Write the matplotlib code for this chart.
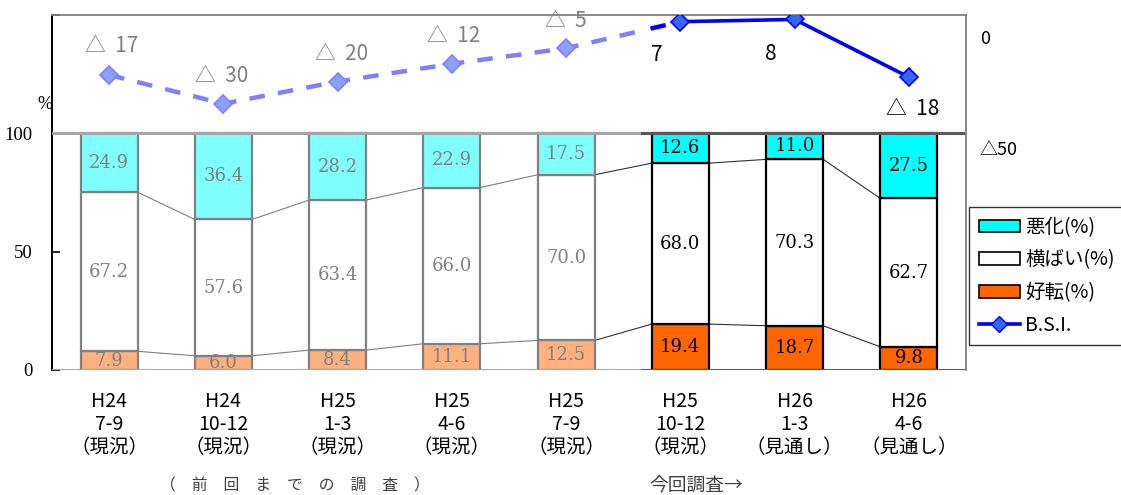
import matplotlib
matplotlib.use("Agg")
import matplotlib.pyplot as plt
from matplotlib.patches import Patch, Rectangle
from matplotlib.lines import Line2D

# ---- data -------------------------------------------------------------
periods = ["H24\n7-9\n（現況）", "H24\n10-12\n（現況）", "H25\n1-3\n（現況）",
           "H25\n4-6\n（現況）", "H25\n7-9\n（現況）", "H25\n10-12\n（現況）",
           "H26\n1-3\n（見通し）", "H26\n4-6\n（見通し）"]
worse = [24.9, 36.4, 28.2, 22.9, 17.5, 12.6, 11.0, 27.5]      # 悪化(%)
flat = [67.2, 57.6, 63.4, 66.0, 70.0, 68.0, 70.3, 62.7]       # 横ばい(%)
better = [7.9, 6.0, 8.4, 11.1, 12.5, 19.4, 18.7, 9.8]         # 好転(%)
bsi = [-17, -30, -20, -12, -5, 7, 8, -18]                     # B.S.I.
n_prev = 5  # number of periods from earlier surveys

# ---- styles -----------------------------------------------------------
JP = ["Noto Sans CJK JP", "DejaVu Sans"]
SERIF = ["DejaVu Serif"]
cyan_full, cyan_pale = "#00FFFF", "#80FFFF"
orange_full, orange_pale = "#FF6600", "#FFB07F"
blue_full, blue_pale = "#0000FF", "#7F7FFF"

fig = plt.figure(figsize=(11.21, 4.95), dpi=100)
ax = fig.add_axes([52 / 1121, 1 - 370 / 495, (966 - 52) / 1121, (370 - 15) / 495])
ax2 = ax.twinx()

x = list(range(len(periods)))
width = 0.5

for i in x:
    prev = i < n_prev
    ec = "#808080" if prev else "black"
    tc = "#808080" if prev else "black"
    c_b = orange_pale if prev else orange_full
    c_w = cyan_pale if prev else cyan_full
    ax.bar(i, better[i], width, color=c_b, edgecolor=ec, linewidth=1.6, zorder=3)
    ax.bar(i, flat[i], width, bottom=better[i], color="white", edgecolor=ec,
           linewidth=1.6, zorder=3)
    ax.bar(i, worse[i], width, bottom=better[i] + flat[i], color=c_w,
           edgecolor=ec, linewidth=1.6, zorder=3)
    for base, val in ((0, better[i]), (better[i], flat[i]),
                      (better[i] + flat[i], worse[i])):
        ax.text(i, base + val / 2, f"{val:.1f}", ha="center", va="center",
                fontsize=13, family=SERIF, color=tc, zorder=5)

# series lines joining the stacked segments of neighbouring bars
cum1 = better
cum2 = [b + f for b, f in zip(better, flat)]
for i in range(len(x) - 1):
    col = "#808080" if i < n_prev - 1 else "#303030"
    for cum in (cum1, cum2):
        ax.plot([x[i] + width / 2, x[i + 1] - width / 2], [cum[i], cum[i + 1]],
                color=col, linewidth=0.8, zorder=2)

ax.set_xlim(-0.5, len(x) - 0.5)
ax.set_ylim(0, 150)
ax.set_yticks([0, 50, 100, 150])
ax.set_yticklabels(["0", "50", "100", ""], family=["Liberation Serif"], fontsize=13.5)
ax.tick_params(axis="y", direction="in", length=6, width=1.2, pad=14)
ax.set_xticks(x)
ax.set_xticklabels(periods, family=JP, fontsize=14, linespacing=1.12)
ax.tick_params(axis="x", length=0, pad=15)

split = 0.645  # axes fraction where the current survey begins
for y, lw in ((100, 2.2), (0, 2.2)):
    ax.axhline(y, xmin=0, xmax=split, color="#A6A6A6", linewidth=lw, zorder=4)
    ax.axhline(y, xmin=split, xmax=1, color="#5A5A5A", linewidth=lw, zorder=4)

for s in ("top", "right", "bottom"):
    ax.spines[s].set_visible(False)
ax.spines["left"].set_color("black")
ax.spines["left"].set_linewidth(1.4)
ax.text(-0.5, 112, "%", ha="right", va="center", fontsize=13,
        family=["Liberation Serif"])

# ---- B.S.I. line --------------------------------------------------------
ax2.set_ylim(-150, 10)
ax2.set_yticks([0, -50])
ax2.set_yticklabels(["0", "△50"], family=JP, fontsize=13)
ax2.tick_params(axis="y", length=0, pad=10)
for s in ("left", "bottom"):
    ax2.spines[s].set_visible(False)
ax2.spines["top"].set_color("#808080")
ax2.spines["right"].set_color("#808080")
ax2.spines["top"].set_linewidth(1.3)
ax2.spines["right"].set_linewidth(1.3)

pale_line, = ax2.plot(x[:n_prev + 1], bsi[:n_prev + 1], color=blue_pale,
                      linewidth=3.2, linestyle=(0, (3.5, 3)), zorder=3)
pale_line.set_clip_path(Rectangle((-1, -200), 1 + n_prev - 0.35, 400,
                                  transform=ax2.transData))
dark_dash, = ax2.plot(x[n_prev - 1:n_prev + 1], bsi[n_prev - 1:n_prev + 1],
                      color=blue_full, linewidth=3.2, linestyle=(0, (3.5, 3)),
                      zorder=3)
dark_dash.set_clip_path(Rectangle((n_prev - 0.35, -200), 10, 400,
                                  transform=ax2.transData))
ax2.plot(x[n_prev:], bsi[n_prev:], color=blue_full, linewidth=2.6, zorder=3)
ax2.plot(x[:n_prev], bsi[:n_prev], linestyle="none", marker="D", markersize=9,
         markerfacecolor="#8CA0FF", markeredgecolor=blue_pale,
         markeredgewidth=1.2, zorder=4)
ax2.plot(x[n_prev:], bsi[n_prev:], linestyle="none", marker="D", markersize=9,
         markerfacecolor="#3366FF", markeredgecolor=blue_full,
         markeredgewidth=1.2, zorder=4)

label_offsets = [(2, 21), (-1, 20), (3, 20), (1, 20), (0, 20),
                 (-17, -24), (-17, -25), (3, -23)]
for i, v in enumerate(bsi):
    txt = f"△  {abs(v)}" if v < 0 else f"{v}"
    ax2.annotate(txt, (x[i], v), xytext=label_offsets[i],
                 textcoords="offset points", ha="center", va="center",
                 fontsize=15, family=JP,
                 color="#808080" if i < n_prev else "black", zorder=5)

# ---- legend -------------------------------------------------------------
handles = [
    Patch(facecolor=cyan_full, edgecolor="black", linewidth=1.2, label="悪化(%)"),
    Patch(facecolor="white", edgecolor="black", linewidth=1.2, label="横ばい(%)"),
    Patch(facecolor=orange_full, edgecolor="black", linewidth=1.2, label="好転(%)"),
    Line2D([], [], color=blue_full, linewidth=2.6, marker="D", markersize=8,
           markerfacecolor="#3366FF", markeredgecolor=blue_full, label="B.S.I."),
]
leg = fig.legend(handles=handles, loc="upper left",
                 bbox_to_anchor=(969 / 1121, 1 - 207 / 495), borderaxespad=0,
                 prop={"family": JP, "size": 14}, frameon=True, fancybox=False,
                 edgecolor="black", handlelength=2.1, handleheight=0.62,
                 labelspacing=0.6, handletextpad=0.3, borderpad=0.5)
leg.get_frame().set_linewidth(1.0)

# ---- notes under the chart ----------------------------------------------
fig.text(295 / 1121, 1 - 486 / 495, "（　前　回　ま　で　の　調　査　）",
         ha="center", va="center", fontsize=11.4, family=JP, color="#404040")
fig.text(696 / 1121, 1 - 486 / 495, "今回調査→", ha="center", va="center",
         fontsize=13.5, family=JP, color="#404040")

fig.savefig("out.png", dpi=100)
